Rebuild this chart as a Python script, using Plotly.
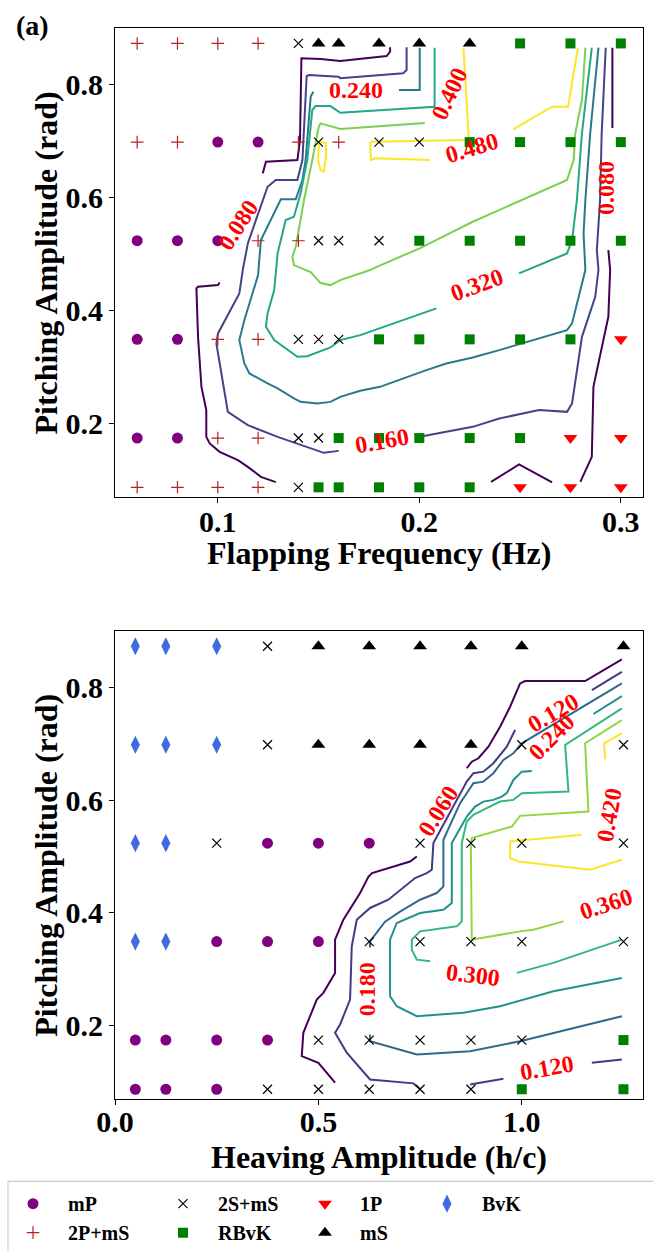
import plotly.graph_objects as go

# ---------------- data ----------------
freq = [0.06, 0.08, 0.1, 0.12, 0.14, 0.15, 0.16, 0.18, 0.2, 0.225, 0.25, 0.275, 0.3]
heave = [0.05, 0.125, 0.25, 0.375, 0.5, 0.625, 0.75, 0.875, 1.0, 1.25]
pitch = [0.0873, 0.1745, 0.3491, 0.5236, 0.6981, 0.8727]

# wake mode per row (bottom row first). M=mP P=2P+mS X=2S+mS R=RBvK D=1P S=mS B=BvK
top_modes = ["PPPPXRRRRRDDD",
             "MMPPXXRRRRRDD",
             "MMPPXXXRRRRRD",
             "MMMPPXXXRRRRR",
             "PPMMPXPXXRRRR",
             "PPPPXSSSSSRRR"]
bottom_modes = ["MMMXXXXXRR",
                "MMMMXXXXXR",
                "BBMMMXXXXX",
                "BBXMMMXXXX",
                "BBBXSSSSXX",
                "BBBXSSSSSS"]

mode_names = {"M": "mP", "P": "2P+mS", "X": "2S+mS", "R": "RBvK", "D": "1P", "S": "mS", "B": "BvK"}
legend_order = ["M", "P", "X", "R", "D", "S", "B"]
legend_column = {"M": "legend", "P": "legend", "X": "legend2", "R": "legend2",
                 "D": "legend3", "S": "legend3", "B": "legend4"}

# ---- contour lines, panel (a): flapping frequency vs pitching amplitude ----
top_levels = [0.08, 0.16, 0.24, 0.32, 0.40, 0.48]
top_colors = ["#440154", "#414487", "#2a788e", "#22a884", "#7ad151", "#fde725"]

t008a_x = [0.1288, 0.1214, 0.1149, 0.1100, 0.1009, 0.0960, 0.0943, 0.0943, 0.0919, 0.0902, 0.0894, 0.0902, 0.1001, 0.1009]
t008a_y = [0.0964, 0.1058, 0.1235, 0.1354, 0.1500, 0.1649, 0.1766, 0.2239, 0.2651, 0.3536, 0.4393, 0.4421, 0.4451, 0.4499]
t008b_x = [0.1223, 0.1239, 0.1395, 0.1408, 0.1415, 0.1510, 0.1608, 0.1838, 0.1855, 0.1855]
t008b_y = [0.6428, 0.6634, 0.6664, 0.7018, 0.8464, 0.8451, 0.8416, 0.8504, 0.8580, 0.8660]
t008c_x = [0.2958, 0.2958]
t008c_y = [0.8651, 0.7230]
t008d_x = [0.2938, 0.2947, 0.2938, 0.2864, 0.2856, 0.2799]
t008d_y = [0.5071, 0.4717, 0.3890, 0.2651, 0.1412, 0.0970]
t008e_x = [0.2356, 0.2495, 0.2659]
t008e_y = [0.0970, 0.1277, 0.0959]

t016a_x = [0.1937, 0.1937, 0.1920, 0.1608, 0.1600, 0.1451, 0.1441, 0.1428, 0.1420, 0.1395, 0.1288, 0.1247,
           0.1149, 0.1124, 0.1107, 0.1001, 0.0993, 0.1050, 0.1149, 0.1297, 0.1469, 0.1526, 0.1600]
t016a_y = [0.8660, 0.8257, 0.8198, 0.8110, 0.8138, 0.8168, 0.8150, 0.7283, 0.6664, 0.6310, 0.6310, 0.6191,
           0.5189, 0.4717, 0.4304, 0.3596, 0.3419, 0.2208, 0.1973, 0.1766, 0.1561, 0.1483, 0.1518]
t016b_x = [0.2002, 0.2265, 0.2397, 0.2594, 0.2733, 0.2758, 0.2807, 0.2873, 0.2889, 0.2881, 0.2897, 0.2905, 0.2925]
t016b_y = [0.1766, 0.1943, 0.2092, 0.2239, 0.2208, 0.2357, 0.3536, 0.4244, 0.4717, 0.5071, 0.5956, 0.7136, 0.8651]

t024a_x = [0.1474, 0.1461, 0.1436, 0.1420, 0.1387, 0.1313, 0.1214, 0.1200, 0.1132, 0.1107, 0.1132, 0.1157,
           0.1247, 0.1297, 0.1378, 0.1411, 0.1494, 0.1559, 0.1608, 0.1707, 0.1805, 0.1937, 0.2035, 0.2134,
           0.2265, 0.2397, 0.2511, 0.2733, 0.2758, 0.2824, 0.2815, 0.2824, 0.2848, 0.2889]
t024a_y = [0.7873, 0.7784, 0.6664, 0.6310, 0.5968, 0.5968, 0.5248, 0.4628, 0.3832, 0.3478, 0.3065, 0.2888,
           0.2711, 0.2623, 0.2446, 0.2385, 0.2357, 0.2385, 0.2474, 0.2580, 0.2651, 0.2828, 0.2947, 0.3065,
           0.3171, 0.3301, 0.3419, 0.3655, 0.3773, 0.4717, 0.5366, 0.5956, 0.7136, 0.8651]
t024b_x = [0.1899, 0.2002, 0.2002]
t024b_y = [0.7903, 0.7903, 0.8651]

t032a_x = [0.2495, 0.2733, 0.2758, 0.2782, 0.2807, 0.2856]
t032a_y = [0.4658, 0.5012, 0.5248, 0.5956, 0.7136, 0.8651]
t032b_x = [0.2085, 0.1871, 0.1707, 0.1608, 0.1559, 0.1444, 0.1395, 0.1280, 0.1239, 0.1247, 0.1280, 0.1297,
           0.1337, 0.1378, 0.1411, 0.1444, 0.1469, 0.1485, 0.1559, 0.1608, 0.2076, 0.2076]
t032b_y = [0.4039, 0.3773, 0.3566, 0.3478, 0.3348, 0.3194, 0.3182, 0.3478, 0.3713, 0.3950, 0.4363, 0.5012,
           0.5602, 0.5660, 0.6074, 0.6664, 0.7549, 0.7619, 0.7619, 0.7501, 0.7607, 0.8651]

t040a_x = [0.2027, 0.1608, 0.1510, 0.1501, 0.1469, 0.1428, 0.1387, 0.1370, 0.1378, 0.1411, 0.1461, 0.1510,
           0.1559, 0.1608, 0.1756, 0.1789, 0.2002, 0.2265, 0.2733, 0.2766, 0.2774, 0.2807, 0.2824]
t040a_y = [0.7318, 0.7212, 0.7313, 0.7253, 0.6664, 0.5956, 0.5129, 0.4952, 0.4805, 0.4752, 0.4681, 0.4487,
           0.4451, 0.4540, 0.4717, 0.4775, 0.5101, 0.5572, 0.6310, 0.6664, 0.7136, 0.7726, 0.8651]

t048a_x = [0.1510, 0.1501, 0.1498, 0.1510, 0.1526, 0.1537, 0.1537, 0.1510]
t048a_y = [0.6988, 0.6959, 0.6664, 0.6487, 0.6457, 0.6722, 0.6959, 0.6988]
t048b_x = [0.2219, 0.2245, 0.2233, 0.1764, 0.1756, 0.1760, 0.1781, 0.2052]
t048b_y = [0.8651, 0.7076, 0.7018, 0.6988, 0.6959, 0.6664, 0.6694, 0.6664]
t048c_x = [0.2466, 0.2659, 0.2738, 0.2787]
t048c_y = [0.7207, 0.7607, 0.7607, 0.8651]

top_label_text = ["0.080", "0.240", "0.400", "0.480", "0.080", "0.320", "0.160"]
top_label_x = [0.1100, 0.1687, 0.2150, 0.2260, 0.2930, 0.2285, 0.1814]
top_label_y = [0.5513, 0.7903, 0.7826, 0.6871, 0.6163, 0.4451, 0.1695]
top_label_angle = [-57, 0, -65, -17, -90, -20, -10]

# ---- contour lines, bottom panel: heaving amplitude vs pitching amplitude ----
bot_levels = [0.06, 0.12, 0.18, 0.24, 0.30, 0.36, 0.42]
bot_colors = ["#440154", "#443983", "#31688e", "#21918c", "#35b779", "#90d743", "#fde725"]

b006a_x = [1.246, 1.1557, 1.0082, 0.9959, 0.9713, 0.9467, 0.9180, 0.8934, 0.8771, 0.8648]
b006a_y = [0.8494, 0.8110, 0.8110, 0.8069, 0.7655, 0.7301, 0.6947, 0.6741, 0.6681, 0.6564]
b006b_x = [0.7419, 0.7254, 0.6320, 0.6229, 0.6025, 0.5614, 0.5410, 0.5410, 0.5122, 0.4960, 0.4630, 0.4591, 0.4999, 0.5410]
b006b_y = [0.5000, 0.4911, 0.4706, 0.4640, 0.4352, 0.3879, 0.3525, 0.2936, 0.2582, 0.2463, 0.1874, 0.1460, 0.1343, 0.0989]

b012a_x = [1.246, 1.1722]
b012a_y = [0.8274, 0.7950]
b012b_x = [0.9836, 0.9632, 0.9302, 0.9056, 0.8811, 0.8648, 0.7827, 0.7788, 0.7665, 0.7377, 0.6720, 0.6270,
           0.5943, 0.5820, 0.5779, 0.5533, 0.5410, 0.5697, 0.6270, 0.7335, 0.7500]
b012b_y = [0.7242, 0.6947, 0.6653, 0.6504, 0.6476, 0.6327, 0.5237, 0.4764, 0.4706, 0.4617, 0.4233, 0.4087,
           0.3879, 0.3407, 0.2463, 0.2021, 0.1874, 0.1520, 0.1047, 0.0977, 0.0876]
b012c_x = [0.8730, 0.9548]
b012c_y = [0.0959, 0.1060]
b012d_x = [1.1722, 1.246]
b012d_y = [0.1343, 0.1401]

b018a_x = [1.246, 1.0001, 0.9794, 0.9548, 0.9302, 0.9056, 0.8811, 0.8648, 0.8484, 0.8073, 0.8073, 0.7910,
           0.7500, 0.7008, 0.6639, 0.6270, 0.6270]
b018a_y = [0.8069, 0.7007, 0.6830, 0.6711, 0.6476, 0.6327, 0.6299, 0.6122, 0.5945, 0.5295, 0.4469, 0.4352,
           0.4233, 0.4021, 0.3844, 0.3495, 0.3384]
b018b_x = [0.6270, 0.6270, 0.7419, 0.8730, 0.9959, 1.246]
b018b_y = [0.1844, 0.1725, 0.1490, 0.1548, 0.1725, 0.2168]

b024a_x = [1.246, 1.1761]
b024a_y = [0.7844, 0.7526]
b024b_x = [1.0247, 1.0001, 0.9794, 0.9632, 0.9509, 0.9302, 0.9056, 0.8852, 0.8648, 0.8280, 0.8280, 0.8073,
           0.7500, 0.6927, 0.6762, 0.6762, 0.6927, 0.7419, 0.8565, 0.9467, 1.0778, 1.246]
b024b_y = [0.6517, 0.6504, 0.6357, 0.6122, 0.6062, 0.6003, 0.5973, 0.5885, 0.5708, 0.5237, 0.4175, 0.4056,
           0.3998, 0.3821, 0.3525, 0.2522, 0.2345, 0.2168, 0.2228, 0.2345, 0.2610, 0.2847]

b030a_x = [1.246, 1.1066, 1.1147, 1.0001, 0.9794, 0.9467, 0.9140, 0.8811, 0.8648, 0.8525, 0.8525, 0.8402,
           0.7500, 0.7296, 0.7296, 0.7419, 0.7746]
b030a_y = [0.7626, 0.6977, 0.6150, 0.6122, 0.6003, 0.5973, 0.5857, 0.5738, 0.5619, 0.5237, 0.3849, 0.3761,
           0.3672, 0.3525, 0.3348, 0.3171, 0.3141]
b030b_x = [0.9878, 1.0778, 1.246]
b030b_y = [0.2936, 0.3113, 0.3525]

b036a_x = [1.246, 1.1557, 1.1638, 0.9959, 0.9755, 0.8771, 0.8747, 0.8771, 0.9959, 1.0286, 1.1024]
b036a_y = [0.7419, 0.7007, 0.5796, 0.5720, 0.5531, 0.5325, 0.5237, 0.3525, 0.3672, 0.3702, 0.3849]

b042a_x = [1.246, 1.2024, 1.2049]
b042a_y = [0.7184, 0.7007, 0.6724]
b042b_x = [1.1476, 0.9713, 0.9713, 0.9917, 1.1680, 1.246]
b042b_y = [0.5384, 0.5265, 0.4972, 0.4911, 0.4764, 0.4941]

bot_label_text = ["0.060", "0.120", "0.240", "0.420", "0.360", "0.300", "0.180", "0.120"]
bot_label_x = [0.7943, 1.0758, 1.0734, 1.2147, 1.2074, 0.8803, 0.6184, 1.0615]
bot_label_y = [0.5809, 0.7552, 0.7110, 0.5738, 0.4163, 0.2906, 0.2640, 0.1242]
bot_label_angle = [-58, -30, -45, -80, -18, 7, -90, -10]

# ---------------- tables built from the arrays ----------------
top_segments = [
    (0, t008a_x, t008a_y), (0, t008b_x, t008b_y), (0, t008c_x, t008c_y), (0, t008d_x, t008d_y), (0, t008e_x, t008e_y),
    (1, t016a_x, t016a_y), (1, t016b_x, t016b_y),
    (2, t024a_x, t024a_y), (2, t024b_x, t024b_y),
    (3, t032a_x, t032a_y), (3, t032b_x, t032b_y),
    (4, t040a_x, t040a_y),
    (5, t048a_x, t048a_y), (5, t048b_x, t048b_y), (5, t048c_x, t048c_y),
]
bot_segments = [
    (0, b006a_x, b006a_y), (0, b006b_x, b006b_y),
    (1, b012a_x, b012a_y), (1, b012b_x, b012b_y), (1, b012c_x, b012c_y), (1, b012d_x, b012d_y),
    (2, b018a_x, b018a_y), (2, b018b_x, b018b_y),
    (3, b024a_x, b024a_y), (3, b024b_x, b024b_y),
    (4, b030a_x, b030a_y), (4, b030b_x, b030b_y),
    (5, b036a_x, b036a_y),
    (6, b042a_x, b042a_y), (6, b042b_x, b042b_y),
]

# ---------------- styling ----------------
FONT = "Liberation Serif"
marker_style = {
    "M": dict(symbol="circle", size=11, color="#800080"),
    "P": dict(symbol="cross-thin", size=9, color="#b22222", line=dict(width=1.2, color="#b22222")),
    "X": dict(symbol="x-thin", size=9, color="black", line=dict(width=1.2, color="black")),
    "R": dict(symbol="square", size=10, color="#008000"),
    "D": dict(symbol="triangle-down", size=12, color="#ff0000"),
    "S": dict(symbol="triangle-up", size=12, color="black"),
    "B": dict(symbol="diamond-tall", size=13, color="#4169e1"),
}

fig = go.Figure()

for lev, xs, ys in top_segments:
    fig.add_trace(go.Scatter(x=xs, y=ys, mode="lines", line=dict(color=top_colors[lev], width=2),
                             showlegend=False, hoverinfo="skip", xaxis="x", yaxis="y"))
for lev, xs, ys in bot_segments:
    fig.add_trace(go.Scatter(x=xs, y=ys, mode="lines", line=dict(color=bot_colors[lev], width=2),
                             showlegend=False, hoverinfo="skip", xaxis="x2", yaxis="y2"))

shown = set()
def add_markers(modes, xvals, xa, ya):
    for code in legend_order:
        xs, ys = [], []
        for r, row in enumerate(modes):
            for c, ch in enumerate(row):
                if ch == code:
                    xs.append(xvals[c])
                    ys.append(pitch[r])
        if not xs:
            continue
        fig.add_trace(go.Scatter(x=xs, y=ys, mode="markers", name=mode_names[code],
                                 marker=marker_style[code], legendgroup=code,
                                 legend=legend_column[code],
                                 showlegend=code not in shown,
                                 xaxis=xa, yaxis=ya))
        shown.add(code)

add_markers(top_modes, freq, "x", "y")
add_markers(bottom_modes, heave, "x2", "y2")

annotations = []
for t, x, y, a in zip(top_label_text, top_label_x, top_label_y, top_label_angle):
    annotations.append(dict(text=t, x=x, y=y, xref="x", yref="y", showarrow=False, textangle=a,
                            font=dict(family=FONT, size=24, color="red", weight="bold")))
for t, x, y, a in zip(bot_label_text, bot_label_x, bot_label_y, bot_label_angle):
    annotations.append(dict(text=t, x=x, y=y, xref="x2", yref="y2", showarrow=False, textangle=a,
                            font=dict(family=FONT, size=24, color="red", weight="bold")))

titlefont = dict(family=FONT, size=32, color="black", weight="bold")
annotations += [
    dict(text="(a)", x=-0.192, y=1.019, xref="paper", yref="paper", xanchor="left", yanchor="top",
         showarrow=False, font=dict(family=FONT, size=28, color="black", weight="bold")),
    dict(text="Flapping Frequency (Hz)", x=0.5, y=0.5097, xref="paper", yref="paper",
         xanchor="center", yanchor="middle", showarrow=False, font=titlefont),
    dict(text="Heaving Amplitude (h/c)", x=0.5, y=-0.0545, xref="paper", yref="paper",
         xanchor="center", yanchor="middle", showarrow=False, font=titlefont),
    dict(text="Pitching Amplitude (rad)", x=-0.1307, y=0.781, xref="paper", yref="paper",
         xanchor="center", yanchor="middle", textangle=-90, showarrow=False, font=titlefont),
    dict(text="Pitching Amplitude (rad)", x=-0.1307, y=0.2186, xref="paper", yref="paper",
         xanchor="center", yanchor="middle", textangle=-90, showarrow=False, font=titlefont),
]

tickfont = dict(family=FONT, size=30, color="black", weight="bold")
axis_common = dict(showline=True, linecolor="black", linewidth=1.2, mirror=True, ticks="outside",
                   ticklen=5, tickwidth=1.2, tickcolor="black", showgrid=False, zeroline=False,
                   tickfont=tickfont, automargin=False)

legend_font = dict(family=FONT, size=20, color="black", weight="bold")
legend_common = dict(orientation="v", xanchor="left", yanchor="top", y=-0.0795,
                     bgcolor="rgba(0,0,0,0)", borderwidth=0, itemwidth=60,
                     traceorder="normal", font=legend_font)

fig.update_layout(
    template="none",
    width=653, height=1251, autosize=False,
    margin=dict(l=115, r=10, t=28, b=152, autoexpand=False),
    paper_bgcolor="white", plot_bgcolor="white",
    xaxis=dict(domain=[0, 1], anchor="y", range=[0.049, 0.311], tickvals=[0.1, 0.2, 0.3],
               ticktext=["0.1", "0.2", "0.3"], ticklabelstandoff=-7, **axis_common),
    yaxis=dict(domain=[0.562, 1.0], anchor="x", range=[0.07, 0.9], tickvals=[0.2, 0.4, 0.6, 0.8],
               ticktext=["0.2", "0.4", "0.6", "0.8"], **axis_common),
    xaxis2=dict(domain=[0, 1], anchor="y2", range=[0, 1.298], tickvals=[0.0, 0.5, 1.0],
                ticktext=["0.0", "0.5", "1.0"], ticklabelstandoff=-9, **axis_common),
    yaxis2=dict(domain=[0.0, 0.4371], anchor="x2", range=[0.07, 0.9], tickvals=[0.2, 0.4, 0.6, 0.8],
                ticktext=["0.2", "0.4", "0.6", "0.8"], **axis_common),
    legend=dict(x=-0.2216, **legend_common),
    legend2=dict(x=0.0625, **legend_common),
    legend3=dict(x=0.3314, **legend_common),
    legend4=dict(x=0.5625, **legend_common),
    shapes=[dict(type="rect", xref="paper", yref="paper", x0=-0.2027, x1=1.035, y0=-0.0769, y1=-0.16,
                 line=dict(color="#cccccc", width=1.2), fillcolor="rgba(0,0,0,0)", layer="below")],
    annotations=annotations,
    showlegend=True,
)

fig.write_html("out.html", config={"displayModeBar": False},
               post_script="document.body.style.margin='0';")
